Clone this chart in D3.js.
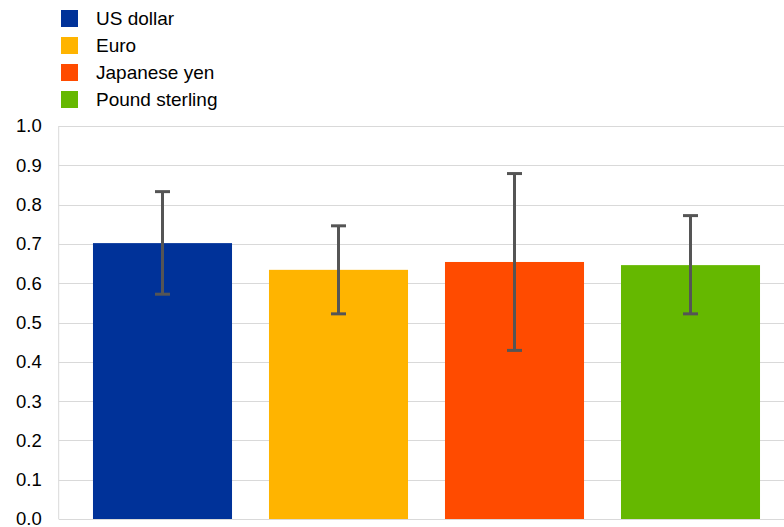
<!DOCTYPE html>
<html>
<head>
<meta charset="utf-8">
<script src="https://cdn.jsdelivr.net/npm/d3@7"></script>
<style>
  html, body { margin: 0; padding: 0; background: #fff; }
  svg { display: block; font-family: Arial, "Liberation Sans", sans-serif; }
</style>
</head>
<body>
<svg id="chart" width="784" height="527"></svg>
<script>
const categories = ["US dollar", "Euro", "Japanese yen", "Pound sterling"];
const values = [0.702, 0.634, 0.654, 0.646];
const errLow = [0.572, 0.522, 0.429, 0.522];
const errHigh = [0.833, 0.746, 0.879, 0.772];
const colors = ["#003299", "#FFB400", "#FF4B00", "#65B800"];
const yTicks = [0, 0.1, 0.2, 0.3, 0.4, 0.5, 0.6, 0.7, 0.8, 0.9, 1.0];

const svg = d3.select("#chart");
const plotLeft = 58.7, plotRight = 784;
const y = d3.scaleLinear().domain([0, 1]).range([519, 126]);
const x = d3.scaleBand().domain(categories).range([74.5, 778.5])
  .paddingInner(0.21).paddingOuter(0.105);

// gridlines
svg.append("g").selectAll("line").data(yTicks).join("line")
  .attr("x1", plotLeft).attr("x2", plotRight)
  .attr("y1", d => Math.round(y(d)) + 0.5).attr("y2", d => Math.round(y(d)) + 0.5)
  .attr("stroke", "#d9d9d9").attr("stroke-width", 1);
// left axis line
svg.append("line").attr("x1", plotLeft).attr("x2", plotLeft)
  .attr("y1", y(1)).attr("y2", y(0))
  .attr("stroke", "#d9d9d9").attr("stroke-width", 1);

// y labels
const yAxis = d3.axisLeft(y).tickValues(yTicks).tickFormat(d3.format(".1f")).tickSize(0).tickPadding(17);
const ga = svg.append("g").attr("transform", `translate(${plotLeft},0)`).call(yAxis);
ga.select(".domain").remove();
ga.selectAll("text").attr("font-size", 18.5).attr("fill", "#000")
  .attr("font-family", "Arial, 'Liberation Sans', sans-serif");

// bars
svg.append("g").selectAll("rect").data(categories).join("rect")
  .attr("x", d => x(d)).attr("width", x.bandwidth())
  .attr("y", (d, i) => y(values[i])).attr("height", (d, i) => y(0) - y(values[i]))
  .attr("fill", (d, i) => colors[i]);

// error bars
const eg = svg.append("g").attr("stroke", "#555555").attr("stroke-width", 3);
categories.forEach((c, i) => {
  const cx = x(c) + x.bandwidth() / 2;
  eg.append("line").attr("x1", cx).attr("x2", cx).attr("y1", y(errHigh[i])).attr("y2", y(errLow[i]));
  eg.append("line").attr("x1", cx - 7.5).attr("x2", cx + 7.5).attr("y1", y(errHigh[i])).attr("y2", y(errHigh[i]));
  eg.append("line").attr("x1", cx - 7.5).attr("x2", cx + 7.5).attr("y1", y(errLow[i])).attr("y2", y(errLow[i]));
});

// legend
const lg = svg.append("g");
categories.forEach((c, i) => {
  const yy = 10 + i * 27;
  lg.append("rect").attr("x", 61).attr("y", yy).attr("width", 17).attr("height", 17).attr("fill", colors[i]);
  lg.append("text").attr("x", 96).attr("y", yy + 8.5).attr("dy", "0.35em")
    .attr("font-size", 19).attr("fill", "#000").text(c);
});
</script>
</body>
</html>
